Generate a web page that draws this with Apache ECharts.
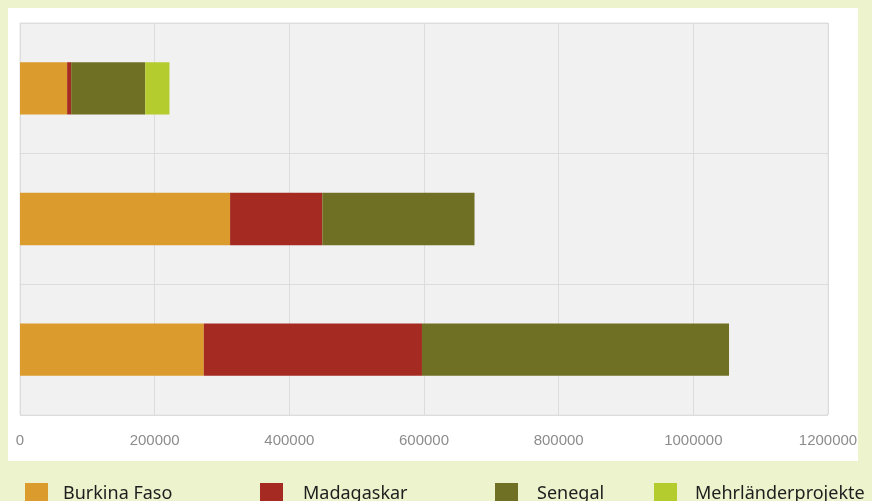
<!DOCTYPE html>
<html><head><meta charset="utf-8">
<script src="https://cdn.jsdelivr.net/npm/echarts@6/dist/echarts.min.js"></script>
<style>html,body{margin:0;padding:0;background:#ecf3cd}#c{width:872px;height:501px}</style>
</head><body><div id="c"></div>
<script>
var categories = ['1', '2', '3'];
var seriesNames = ['Burkina Faso', 'Madagaskar', 'Senegal', 'Mehrländerprojekte'];
var burkina = [70000, 312000, 273000];
var madagaskar = [6000, 137000, 324000];
var senegal = [110000, 226000, 456000];
var mehrlaender = [36000, 0, 0];
var xTicks = [0, 200000, 400000, 600000, 800000, 1000000, 1200000];

var colors = ['#dc9b2d', '#a52a22', '#6f7023', '#b5cc2e'];
var values = [burkina, madagaskar, senegal, mehrlaender];
var chart = echarts.init(document.getElementById('c'), null, {renderer: 'canvas'});
var legendLefts = [25, 260, 495, 654];
var textPads = [15, 20, 19, 18];
var legends = seriesNames.map(function (n, i) {
  return {
    data: [n], left: legendLefts[i], top: 483, itemWidth: 23, itemHeight: 22,
    icon: 'rect', selectedMode: false, padding: 0,
    textStyle: {fontFamily: 'Noto Sans', fontSize: 18, color: '#1e1e1e', padding: [0, 0, 0, textPads[i] - 5]}
  };
});
chart.setOption({
  backgroundColor: '#ecf3cd',
  animation: false,
  graphic: [{type: 'rect', z: -10, shape: {x: 8, y: 8, width: 850, height: 453}, style: {fill: '#ffffff'}}],
  legend: legends,
  grid: {left: 20, right: 44, top: 23, bottom: 86, show: true, backgroundColor: '#f1f1f1', borderColor: '#e2e2e2', borderWidth: 1},
  xAxis: {
    type: 'value', min: 0, max: 1200000, interval: 200000,
    axisLine: {show: false}, axisTick: {show: false},
    splitLine: {lineStyle: {color: '#dcdcdc', width: 1}},
    axisLabel: {color: '#8c8c8c', fontFamily: 'Liberation Sans', fontSize: 15, margin: 18,
      formatter: function (v) { return xTicks.indexOf(v) >= 0 ? String(v) : ''; }}
  },
  yAxis: {
    type: 'category', data: categories, inverse: true,
    axisLine: {show: false}, axisTick: {show: false}, axisLabel: {show: false},
    splitLine: {show: true, lineStyle: {color: '#dcdcdc', width: 1}}
  },
  series: seriesNames.map(function (n, i) {
    return {name: n, type: 'bar', stack: 'total', data: values[i], barCategoryGap: '60%',
      itemStyle: {color: colors[i]}, emphasis: {disabled: true}};
  })
});
</script></body></html>
